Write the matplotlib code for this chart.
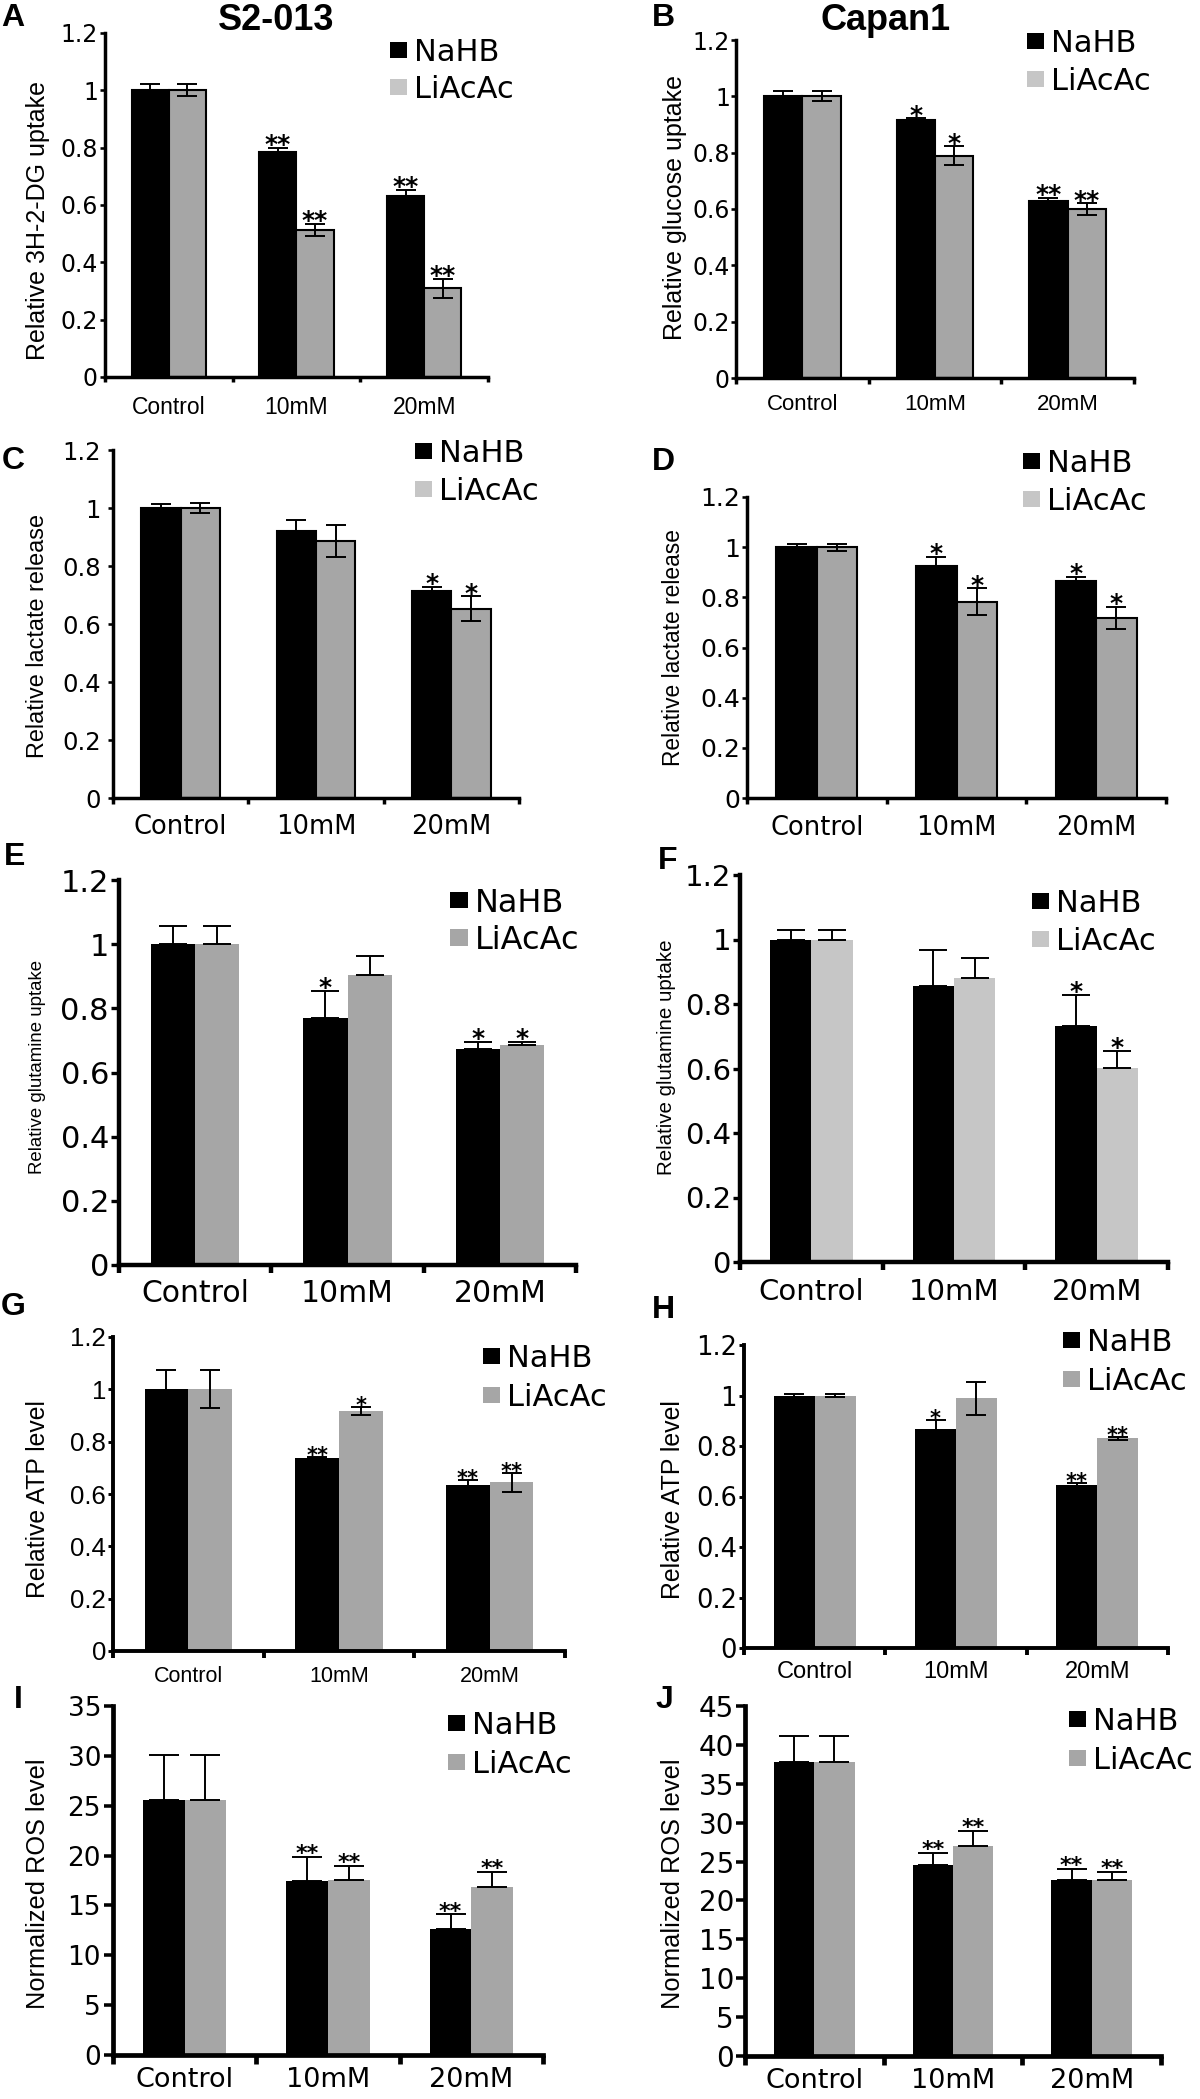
import numpy as np
import matplotlib
matplotlib.use('Agg')
import matplotlib.pyplot as plt
from matplotlib.patches import Patch

groups = ['Control', '10mM', '20mM']
series = ['NaHB', 'LiAcAc']

# A - S2-013, 3H-2-DG uptake
a_nahb = [1.00, 0.786, 0.633]
a_nahb_err = [0.021, 0.013, 0.02]
a_liac = [1.00, 0.513, 0.309]
a_liac_err = [0.021, 0.022, 0.033]
a_nahb_sig = ['', '**', '**']
a_liac_sig = ['', '**', '**']

# B - Capan1, glucose uptake
b_nahb = [1.00, 0.916, 0.627]
b_nahb_err = [0.018, 0.006, 0.012]
b_liac = [1.00, 0.789, 0.600]
b_liac_err = [0.018, 0.033, 0.02]
b_nahb_sig = ['', '*', '**']
b_liac_sig = ['', '*', '**']

# C - S2-013, lactate release
c_nahb = [0.999, 0.922, 0.714]
c_nahb_err = [0.014, 0.037, 0.015]
c_liac = [1.00, 0.886, 0.652]
c_liac_err = [0.017, 0.054, 0.043]
c_nahb_sig = ['', '', '*']
c_liac_sig = ['', '', '*']

# D - Capan1, lactate release
d_nahb = [1.00, 0.924, 0.864]
d_nahb_err = [0.014, 0.037, 0.017]
d_liac = [1.00, 0.782, 0.719]
d_liac_err = [0.014, 0.054, 0.044]
d_nahb_sig = ['', '*', '*']
d_liac_sig = ['', '*', '*']

# E - S2-013, glutamine uptake
e_nahb = [1.00, 0.771, 0.674]
e_nahb_err = [0.058, 0.084, 0.022]
e_liac = [1.00, 0.904, 0.685]
e_liac_err = [0.058, 0.059, 0.011]
e_nahb_sig = ['', '*', '*']
e_liac_sig = ['', '', '*']

# F - Capan1, glutamine uptake
f_nahb = [1.00, 0.857, 0.733]
f_nahb_err = [0.029, 0.11, 0.096]
f_liac = [1.00, 0.880, 0.603]
f_liac_err = [0.029, 0.063, 0.052]
f_nahb_sig = ['', '', '*']
f_liac_sig = ['', '', '*']

# G - S2-013, ATP level
g_nahb = [1.00, 0.739, 0.635]
g_nahb_err = [0.073, 0.003, 0.018]
g_liac = [1.00, 0.917, 0.644]
g_liac_err = [0.073, 0.016, 0.037]
g_nahb_sig = ['', '**', '**']
g_liac_sig = ['', '*', '**']

# H - Capan1, ATP level
h_nahb = [1.00, 0.866, 0.645]
h_nahb_err = [0.004, 0.037, 0.008]
h_liac = [1.00, 0.989, 0.831]
h_liac_err = [0.004, 0.065, 0.006]
h_nahb_sig = ['', '*', '**']
h_liac_sig = ['', '', '**']

# I - S2-013, ROS
i_nahb = [25.6, 17.5, 12.6]
i_nahb_err = [4.5, 2.4, 1.5]
i_liac = [25.6, 17.6, 16.8]
i_liac_err = [4.5, 1.4, 1.6]
i_nahb_sig = ['', '**', '**']
i_liac_sig = ['', '**', '**']

# J - Capan1, ROS
j_nahb = [37.8, 24.5, 22.6]
j_nahb_err = [3.4, 1.6, 1.4]
j_liac = [37.8, 27.0, 22.6]
j_liac_err = [3.4, 1.9, 1.0]
j_nahb_sig = ['', '**', '**']
j_liac_sig = ['', '**', '**']

W, H = 1200, 2099
PT = 72 / 100  # points per pixel
GRAY = '#a6a6a6'
LIGHT = '#c6c6c6'
DV = 'DejaVu Sans'
LS = 'Liberation Sans'

fig = plt.figure(figsize=(W / 100, H / 100), dpi=100)


def panel(box, ymax, ystep, ylabel, nahb, nahb_err, liac, liac_err, nahb_sig, liac_sig, st):
    x0, ytop, x1, y0 = box
    ax = fig.add_axes([x0 / W, 1 - y0 / H, (x1 - x0) / W, (y0 - ytop) / H])
    x = np.arange(len(groups))
    bw = 0.29
    ec = 'black' if st['edge'] else 'none'
    blw = 1.5 if st['edge'] else 0
    ax.bar(x - bw / 2, nahb, bw, color='black', edgecolor=ec, linewidth=blw, zorder=2)
    ax.bar(x + bw / 2, liac, bw, color=st['gray'], edgecolor=ec, linewidth=blw, zorder=2)

    star_px = st['star'] / PT
    for xs, vals, errs, sig in ((x - bw / 2, nahb, nahb_err, nahb_sig),
                                (x + bw / 2, liac, liac_err, liac_sig)):
        errs = np.array(errs)
        lower = np.zeros(len(errs)) if st['upper'] else errs
        ax.errorbar(xs, vals, yerr=[lower, errs], fmt='none', ecolor='black',
                    elinewidth=1.4, capsize=st['cap'], capthick=1.4, zorder=3)
        for xi, v, e, s in zip(xs, vals, errs, sig):
            if s:
                off = (st['star_gap'] - 0.57 * star_px) * PT
                ax.annotate(s, (xi, v + e), xytext=(0, off), textcoords='offset points',
                            ha='center', va='baseline', fontsize=st['star'],
                            fontweight='bold', family=DV)

    ax.set_xlim(-0.5, 2.5)
    ax.set_ylim(0, ymax)
    for side in ['top', 'right']:
        ax.spines[side].set_visible(False)
    for side in ['left', 'bottom']:
        ax.spines[side].set_linewidth(st['spine'])

    ax.set_xticks(x, groups, fontsize=st['xt'][1], family=st['xt'][0])
    ax.set_xticks([-0.5, 0.5, 1.5, 2.5], minor=True)
    ax.tick_params(axis='x', which='major', length=0, pad=st['xdist'] * PT)
    ax.tick_params(axis='x', which='minor', length=st['xtl'] * PT, width=st['spine'], direction='out')
    for lab in ax.get_xticklabels():
        lab.set_va('center')

    yt = np.arange(0, ymax + ystep / 2, ystep)
    ax.set_yticks(yt, [f'{v:g}' for v in yt], fontsize=st['yt'][1], family=st['yt'][0])
    ax.tick_params(axis='y', length=st['ytl'] * PT, width=st['spine'] * 0.75, direction='out',
                   pad=max(st['ygap'] - st['ytl'], 1) * PT)

    ax.set_ylabel(ylabel, fontsize=st['yl'], family=LS)
    ax.yaxis.label.set_va('center')
    lx, ly = st['ylpos']
    ax.yaxis.set_label_coords(lx / W, 1 - ly / H, transform=fig.transFigure)

    fs = st['leg_fs']
    fs_px = fs / PT
    gx, g1, g2 = st['leg']
    handles = [Patch(facecolor='black', edgecolor='none'),
               Patch(facecolor=st['leg_gray'], edgecolor='none')]
    ax.legend(handles, series, loc='upper left',
              bbox_to_anchor=(gx / W, 1 - (g1 - 0.45 * fs_px) / H),
              bbox_transform=fig.transFigure, frameon=False, borderpad=0,
              borderaxespad=0, handlelength=0.55, handleheight=0.42, handletextpad=0.22,
              labelspacing=(g2 - g1) / fs_px - 1.0, prop=dict(family=DV, size=fs))
    return ax


base = dict(edge=True, upper=False, gray=GRAY, leg_gray=LIGHT, cap=7, spine=2.5,
            star=18, star_gap=10, leg_fs=22)

panel((105, 33, 488, 377), 1.2, 0.2, 'Relative 3H-2-DG uptake',
      a_nahb, a_nahb_err, a_liac, a_liac_err, a_nahb_sig, a_liac_sig,
      dict(base, xt=(LS, 16.5), xdist=30, xtl=5, yt=(DV, 17), ytl=5, ygap=7,
           yl=18, ylpos=(38, 220), leg=(390, 52, 90)))

panel((736, 40, 1134, 378), 1.2, 0.2, 'Relative glucose uptake',
      b_nahb, b_nahb_err, b_liac, b_liac_err, b_nahb_sig, b_liac_sig,
      dict(base, xt=(LS, 16), xdist=27, xtl=6, yt=(DV, 17), ytl=5, ygap=6,
           yl=18, ylpos=(675, 208), leg=(1027, 43, 82)))

panel((113, 450, 519, 798), 1.2, 0.2, 'Relative lactate release',
      c_nahb, c_nahb_err, c_liac, c_liac_err, c_nahb_sig, c_liac_sig,
      dict(base, xt=(DV, 18.5), xdist=29, xtl=6, yt=(DV, 17.5), ytl=5, ygap=12,
           yl=16.8, ylpos=(38, 636), leg=(415, 453, 492)))

panel((747, 497, 1166, 798), 1.2, 0.2, 'Relative lactate release',
      d_nahb, d_nahb_err, d_liac, d_liac_err, d_nahb_sig, d_liac_sig,
      dict(base, xt=(DV, 18.5), xdist=30, xtl=6, yt=(DV, 18), ytl=5, ygap=7,
           yl=16.4, ylpos=(673, 648), leg=(1023, 463, 502)))

panel((119, 880, 576, 1265), 1.2, 0.2, 'Relative glutamine uptake',
      e_nahb, e_nahb_err, e_liac, e_liac_err, e_nahb_sig, e_liac_sig,
      dict(base, edge=False, upper=True, leg_gray=GRAY, cap=10, spine=3.2,
           xt=(DV, 21.5), xdist=28, xtl=8, yt=(DV, 22), ytl=8, ygap=10,
           yl=13.4, ylpos=(38, 1067), leg=(450, 902, 940), leg_fs=23))

panel((740, 875, 1168, 1262), 1.2, 0.2, 'Relative glutamine uptake',
      f_nahb, f_nahb_err, f_liac, f_liac_err, f_nahb_sig, f_liac_sig,
      dict(base, edge=False, upper=True, gray=LIGHT, cap=10, spine=3.2,
           xt=(DV, 21), xdist=30, xtl=8, yt=(DV, 21), ytl=7, ygap=9,
           yl=14.8, ylpos=(667, 1057), leg=(1032, 903, 942)))

panel((113, 1337, 565, 1651), 1.2, 0.2, 'Relative ATP level',
      g_nahb, g_nahb_err, g_liac, g_liac_err, g_nahb_sig, g_liac_sig,
      dict(base, edge=False, leg_gray=GRAY, spine=2.8, star=15, star_gap=7,
           xt=(LS, 15.5), xdist=25, xtl=7, yt=(LS, 18.5), ytl=5, ygap=7,
           yl=17.8, ylpos=(38, 1499), leg=(483, 1358, 1398), leg_fs=22))

panel((744, 1345, 1168, 1648), 1.2, 0.2, 'Relative ATP level',
      h_nahb, h_nahb_err, h_liac, h_liac_err, h_nahb_sig, h_liac_sig,
      dict(base, edge=False, leg_gray=GRAY, spine=2.8, star=15, star_gap=7,
           xt=(LS, 17), xdist=24, xtl=7, yt=(DV, 18.5), ytl=5, ygap=7,
           yl=17.9, ylpos=(673, 1500), leg=(1063, 1342, 1382), leg_fs=22))

panel((113, 1706, 543, 2055), 35, 5, 'Normalized ROS level',
      i_nahb, i_nahb_err, i_liac, i_liac_err, i_nahb_sig, i_liac_sig,
      dict(base, edge=False, upper=True, leg_gray=GRAY, cap=11, spine=3.4, star=16, star_gap=9,
           xt=(DV, 19.5), xdist=25, xtl=9, yt=(DV, 19), ytl=9, ygap=12,
           yl=18.3, ylpos=(38, 1884), leg=(448, 1725, 1765), leg_fs=22))

panel((745, 1706, 1161, 2056), 45, 5, 'Normalized ROS level',
      j_nahb, j_nahb_err, j_liac, j_liac_err, j_nahb_sig, j_liac_sig,
      dict(base, edge=False, upper=True, leg_gray=GRAY, cap=11, spine=3.4, star=16, star_gap=10,
           xt=(DV, 19.5), xdist=25, xtl=9, yt=(DV, 20), ytl=9, ygap=11,
           yl=18.3, ylpos=(673, 1884), leg=(1069, 1721, 1761), leg_fs=22))

# titles and panel letters
fig.text(276 / W, 1 - 21 / H, 'S2-013', ha='center', va='center', fontsize=26,
         fontweight='bold', family=LS)
fig.text(886 / W, 1 - 20 / H, 'Capan1', ha='center', va='center', fontsize=26,
         fontweight='bold', family=LS)

letters = ['A', 'B', 'C', 'D', 'E', 'F', 'G', 'H', 'I', 'J']
letter_xy = [(13, 18), (663, 18), (13, 461), (663, 462), (15, 857),
             (668, 861), (13, 1307), (663, 1310), (18, 1700), (664, 1700)]
for t, (lx, ly) in zip(letters, letter_xy):
    fig.text(lx / W, 1 - ly / H, t, ha='center', va='center', fontsize=23,
             fontweight='bold', family=LS)

fig.savefig('out.png', dpi=100)
